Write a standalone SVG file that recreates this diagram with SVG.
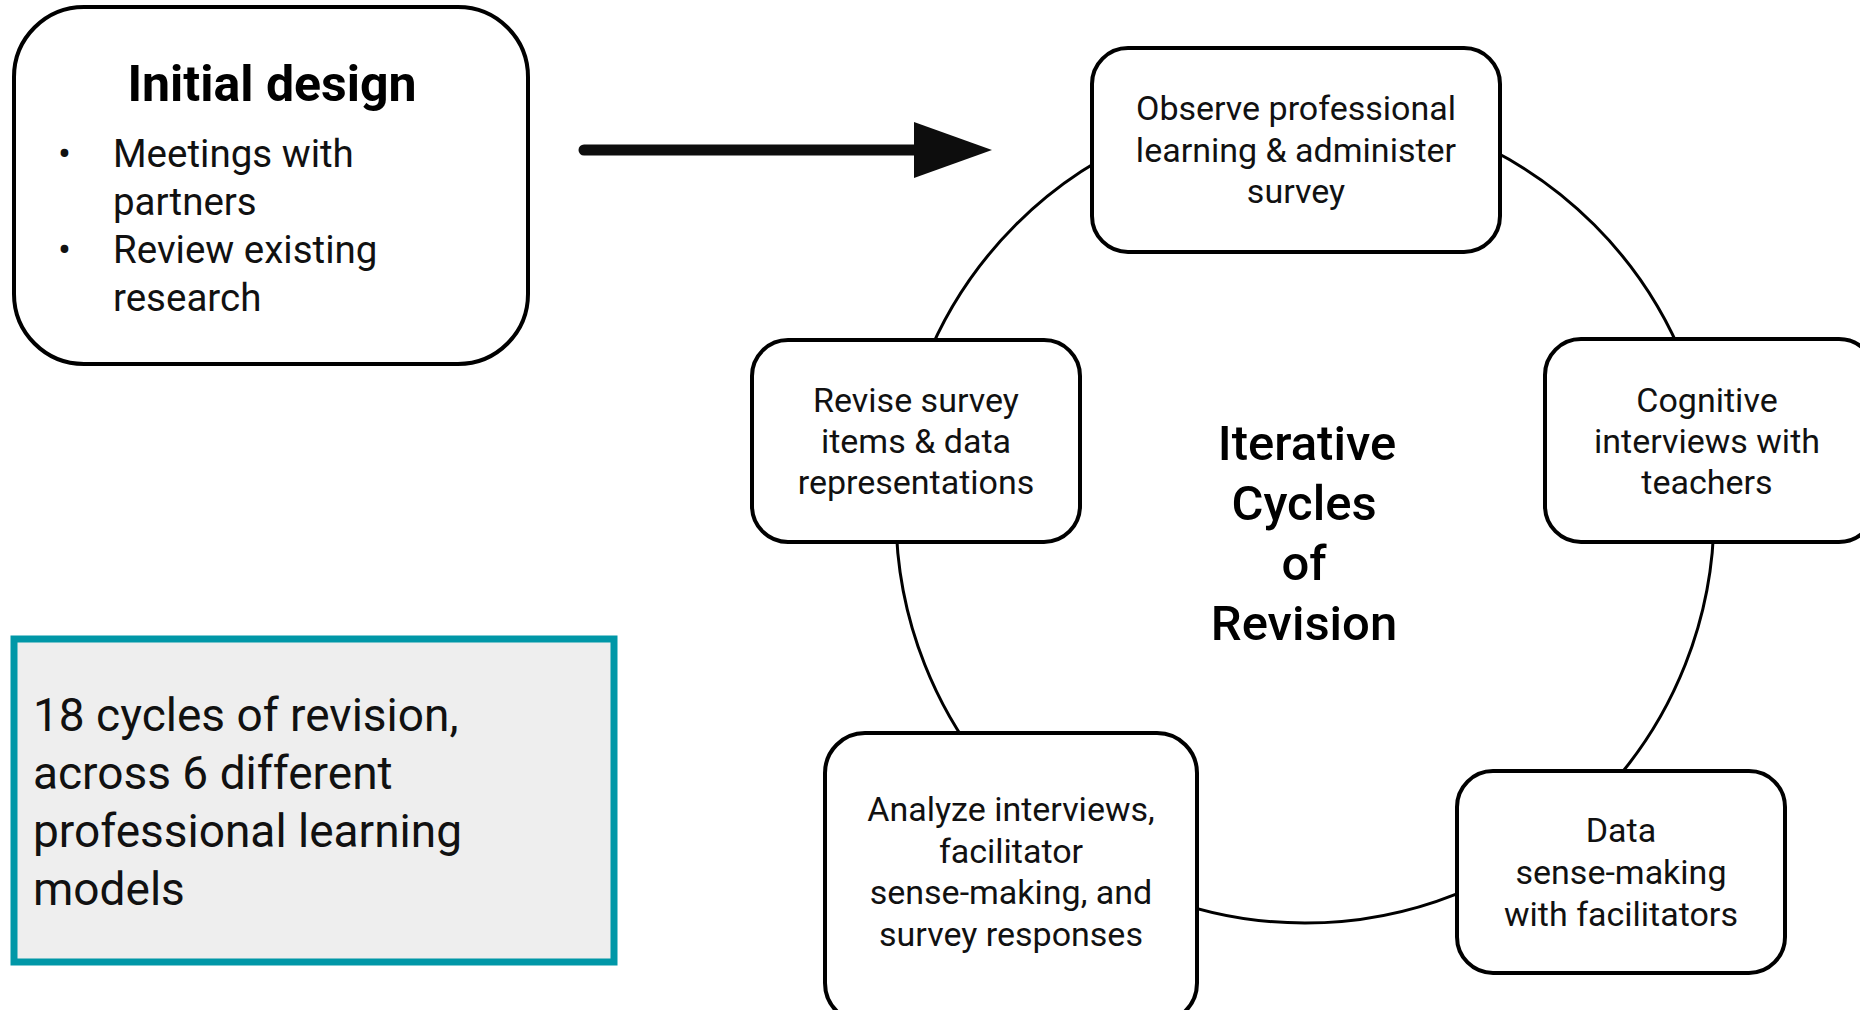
<svg xmlns="http://www.w3.org/2000/svg" width="1860" height="1010" viewBox="0 0 1860 1010">
<style>
.box{fill:#fff;stroke:#000;stroke-width:4}
.t{font-family:Roboto,"Liberation Sans",sans-serif;font-size:34px;fill:#111;text-anchor:middle}
.b{font-family:Roboto,"Liberation Sans",sans-serif;font-size:38.5px;fill:#111}
.s{font-family:Roboto,"Liberation Sans",sans-serif;font-size:46px;fill:#111}
.c{font-family:Roboto,"Liberation Sans",sans-serif;font-size:49px;font-weight:500;fill:#000;text-anchor:middle}
.k{fill:none;stroke:#000;stroke-width:3}
</style>
<defs>
<marker id="ah" markerUnits="userSpaceOnUse" markerWidth="80" markerHeight="60" refX="0" refY="28" orient="auto">
<path d="M0,0 L78,28 L0,56 Z" fill="#0d0d0d"/>
</marker>
</defs>
<rect width="1860" height="1010" fill="#fff"/>
<g id="connectors">
<circle class="k" cx="1305" cy="514" r="409"/>
<line x1="584" y1="150" x2="914" y2="150" stroke="#0d0d0d" stroke-width="11" stroke-linecap="round" marker-end="url(#ah)"/>
</g>
<g id="initial-design">
<rect class="box" x="14" y="7" width="514" height="357" rx="70"/>
<text x="272" y="101" font-family="Roboto,'Liberation Sans',sans-serif" font-size="50" font-weight="700" text-anchor="middle" fill="#000">Initial design</text>
<text class="b" x="58" y="167">•</text>
<text class="b" x="113" y="167">Meetings with</text>
<text class="b" x="113" y="215">partners</text>
<text class="b" x="58" y="263">•</text>
<text class="b" x="113" y="263">Review existing</text>
<text class="b" x="113" y="311">research</text>
</g>
<g id="summary">
<rect x="14" y="639" width="600" height="323" fill="#eeeeee" stroke="#0097a7" stroke-width="7"/>
<text class="s" x="33" y="731">18 cycles of revision,</text>
<text class="s" x="33" y="789">across 6 different</text>
<text class="s" x="33" y="847">professional learning</text>
<text class="s" x="33" y="905">models</text>
</g>
<g id="center-label">
<text class="c" x="1307" y="460">Iterative</text>
<text class="c" x="1304" y="520">Cycles</text>
<text class="c" x="1304" y="580">of</text>
<text class="c" x="1304" y="640">Revision</text>
</g>
<g id="observe">
<rect class="box" x="1092" y="48" width="408" height="204" rx="36"/>
<text class="t" x="1296" y="120">Observe professional</text>
<text class="t" x="1296" y="162">learning &amp; administer</text>
<text class="t" x="1296" y="203">survey</text>
</g>
<g id="cognitive">
<rect class="box" x="1545" y="339" width="330" height="203" rx="36"/>
<text class="t" x="1707" y="412">Cognitive</text>
<text class="t" x="1707" y="453">interviews with</text>
<text class="t" x="1707" y="494">teachers</text>
</g>
<g id="data">
<rect class="box" x="1457" y="771" width="328" height="202" rx="36"/>
<text class="t" x="1621" y="842">Data</text>
<text class="t" x="1621" y="884">sense-making</text>
<text class="t" x="1621" y="926">with facilitators</text>
</g>
<g id="analyze">
<rect class="box" x="825" y="733" width="372" height="290" rx="40"/>
<text class="t" x="1011" y="821">Analyze interviews,</text>
<text class="t" x="1011" y="863">facilitator</text>
<text class="t" x="1011" y="904">sense-making, and</text>
<text class="t" x="1011" y="946">survey responses</text>
</g>
<g id="revise">
<rect class="box" x="752" y="340" width="328" height="202" rx="36"/>
<text class="t" x="916" y="412">Revise survey</text>
<text class="t" x="916" y="453">items &amp; data</text>
<text class="t" x="916" y="494">representations</text>
</g>
</svg>
